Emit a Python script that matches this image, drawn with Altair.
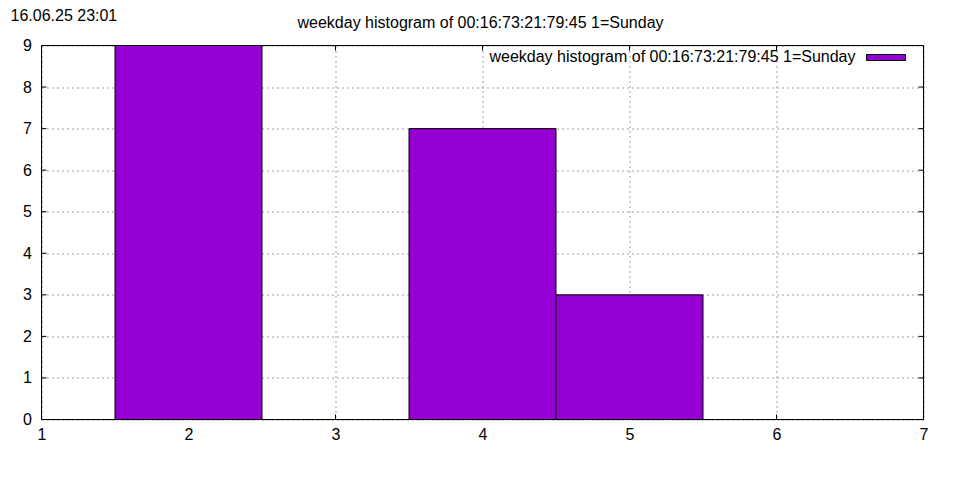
import altair as alt
import pandas as pd

# data
days = [2, 4, 5]
counts = [9, 7, 3]
x_ticks = [1, 2, 3, 4, 5, 6, 7]
y_ticks = [0, 1, 2, 3, 4, 5, 6, 7, 8, 9]
title_text = "weekday histogram of 00:16:73:21:79:45 1=Sunday"
stamp_text = "16.06.25 23:01"
legend_text = "weekday histogram of 00:16:73:21:79:45 1=Sunday"
bar_color = "#9400D3"
FONT = "Liberation Sans"
FS = 16

W, H = 882, 374
TICK = 5

df = pd.DataFrame({"day": days, "count": counts})
xs = alt.Scale(domain=[1, 7], nice=False, zero=False)
ys = alt.Scale(domain=[0, 9], nice=False, zero=True)

xt = pd.DataFrame({"t": x_ticks})
yt = pd.DataFrame({"t": y_ticks})

grid_kw = dict(grid=True, gridColor="#a0a0a0", gridDash=[2, 3], gridWidth=1,
               domain=False, ticks=False, title=None, labelFlush=False,
               labelFont=FONT, labelFontSize=FS, labelColor="black", format="d")
x_axis = alt.Axis(values=x_ticks, labelPadding=7, **grid_kw)
y_axis = alt.Axis(values=y_ticks, labelPadding=10, **grid_kw)

xtick_bot = alt.Chart(xt).mark_rule(color="black", strokeWidth=1).encode(
    x=alt.X("t:Q", scale=xs, axis=x_axis), y=alt.value(H), y2=alt.value(H - TICK))
xtick_top = alt.Chart(xt).mark_rule(color="black", strokeWidth=1).encode(
    x=alt.X("t:Q", scale=xs, axis=x_axis), y=alt.value(0), y2=alt.value(TICK))
ytick_l = alt.Chart(yt).mark_rule(color="black", strokeWidth=1).encode(
    y=alt.Y("t:Q", scale=ys, axis=y_axis), x=alt.value(0), x2=alt.value(TICK))
ytick_r = alt.Chart(yt).mark_rule(color="black", strokeWidth=1).encode(
    y=alt.Y("t:Q", scale=ys, axis=y_axis), x=alt.value(W), x2=alt.value(W - TICK))

bars = alt.Chart(df).transform_calculate(
    x0="datum.day - 0.5", x1="datum.day + 0.5"
).mark_rect(fill=bar_color, stroke="black", strokeWidth=1).encode(
    x=alt.X("x0:Q", scale=xs, axis=x_axis),
    x2="x1:Q",
    y=alt.Y("count:Q", scale=ys, axis=y_axis),
    y2=alt.datum(0),
)

one = pd.DataFrame({"a": [0]})
frame = alt.Chart(one).mark_rect(fill=None, stroke="black", strokeWidth=1).encode(
    x=alt.value(0), x2=alt.value(W), y=alt.value(0), y2=alt.value(H))
stamp = alt.Chart(one).mark_text(text=stamp_text, font=FONT, fontSize=FS, align="left",
                                  baseline="alphabetic", color="black").encode(
    x=alt.value(-31), y=alt.value(-25))
title = alt.Chart(one).mark_text(text=title_text, font=FONT, fontSize=FS, align="center",
                                  baseline="alphabetic", color="black").encode(
    x=alt.value(439), y=alt.value(-18))
leg_text = alt.Chart(one).mark_text(text=legend_text, font=FONT, fontSize=FS, align="right",
                                     baseline="middle", color="black").encode(
    x=alt.value(814), y=alt.value(11))
leg_sw = alt.Chart(one).mark_rect(fill=bar_color, stroke="black", strokeWidth=1).encode(
    x=alt.value(825), x2=alt.value(864), y=alt.value(9), y2=alt.value(15))

chart = alt.layer(
    xtick_bot, xtick_top, ytick_l, ytick_r, bars, frame, stamp, title, leg_text, leg_sw
).properties(
    width=W, height=H,
    autosize=alt.AutoSizeParams(type="none"),
    padding={"left": 33.5, "top": 37.5, "right": 28, "bottom": 44},
).configure_view(stroke=None).configure(font=FONT)

chart.save("out.html", embed_options={"renderer": "svg", "actions": False})
